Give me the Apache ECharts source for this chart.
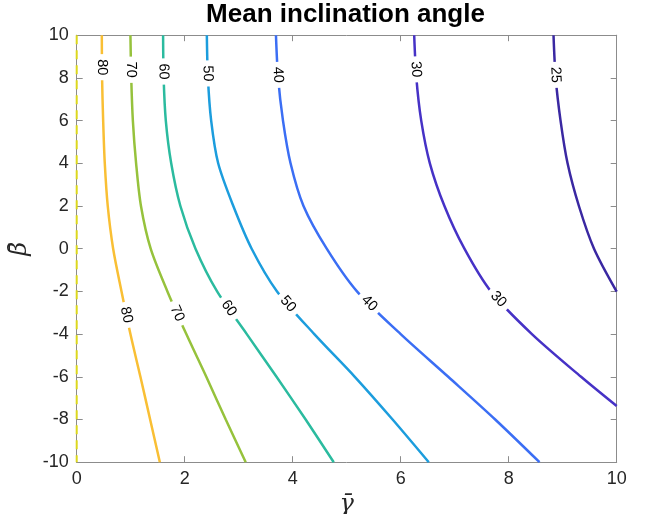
<!DOCTYPE html>
<html>
<head>
<meta charset="utf-8">
<script src="https://cdn.jsdelivr.net/npm/echarts@6/dist/echarts.min.js"></script>
<style>
  html, body { margin: 0; padding: 0; background: #fff; }
  #chart { width: 656px; height: 514px; }
</style>
</head>
<body>
<div id="chart"></div>
<script>
// Contour lines of the mean inclination angle over (gamma, beta), ordered from beta = 10 downwards.
const contour90 = [[0, 10], [0, -10]];
const contour80 = [[0.465, 10], [0.47, 8], [0.49, 6], [0.52, 4], [0.575, 2], [0.675, 0], [0.83, -2], [0.995, -4], [1.18, -6], [1.36, -8], [1.54, -10]];
const contour70 = [[0.995, 10], [1.01, 8], [1.04, 6], [1.10, 4], [1.19, 2], [1.37, 0], [1.68, -2], [2.03, -4], [2.40, -6], [2.76, -8], [3.13, -10]];
const contour60 = [[1.60, 10], [1.61, 8], [1.65, 6], [1.75, 4], [1.92, 2], [2.20, 0], [2.60, -2], [3.15, -4], [3.70, -6], [4.24, -8], [4.76, -10]];
const contour50 = [[2.41, 10], [2.43, 8], [2.49, 6], [2.62, 4], [2.90, 2], [3.24, 0], [3.71, -2], [4.40, -4], [5.15, -6], [5.85, -8], [6.52, -10]];
const contour40 = [[3.69, 10], [3.73, 8], [3.82, 6], [3.96, 4], [4.20, 2], [4.63, 0], [5.19, -2], [6.00, -4], [6.88, -6], [7.75, -8], [8.57, -10]];
const contour30 = [[6.25, 10], [6.29, 8], [6.38, 6], [6.54, 4], [6.81, 2], [7.18, 0], [7.67, -2], [8.43, -4], [9.34, -6], [10, -7.37]];
const contour25 = [[8.83, 10], [8.87, 8], [8.96, 6], [9.09, 4], [9.30, 2], [9.58, 0], [10, -2.01]];

const levels = [90, 80, 70, 60, 50, 40, 30, 25];
const contours = [contour90, contour80, contour70, contour60, contour50, contour40, contour30, contour25];

// Inline contour labels: which level, and the beta where the label sits on that line.
const labelLevel = [80, 80, 70, 70, 60, 60, 50, 50, 40, 40, 30, 30, 25];
const labelBeta = [8.5, -3.1, 8.38, -3.03, 8.3, -2.79, 8.21, -2.59, 8.14, -2.56, 8.4, -2.37, 8.14];

// Parula-like colours per level
const levelColors = {
  90: '#dcd81c', 80: '#f9bf34', 70: '#96c23c', 60: '#2bbb9f',
  50: '#1c9ddd', 40: '#3b6ef4', 30: '#4632c6', 25: '#3a28a2'
};

function segmentAt(line, beta) {
  for (let i = 0; i < line.length - 1; i++) {
    const a = line[i], b = line[i + 1];
    if (beta <= a[1] && beta >= b[1]) return [a, b];
  }
  return [line[line.length - 2], line[line.length - 1]];
}

const labelData = labelLevel.map(function (lv, i) {
  const seg = segmentAt(contours[levels.indexOf(lv)], labelBeta[i]);
  const t = (seg[0][1] - labelBeta[i]) / (seg[0][1] - seg[1][1]);
  const g = seg[0][0] + t * (seg[1][0] - seg[0][0]);
  return [g, labelBeta[i], lv];
});

const axisColor = '#8c8c8c';
const textColor = '#262626';
const font = '"Liberation Sans", Arial, Helvetica, sans-serif';
const mathFont = '"DejaVu Serif", "Liberation Serif", serif';

function frameAxis(pos, showLabels, extra) {
  return Object.assign({
    type: 'value',
    position: pos,
    axisLine: { show: true, onZero: false, lineStyle: { color: axisColor, width: 1 } },
    axisTick: { show: true, inside: true, length: 6, lineStyle: { color: axisColor, width: 1 } },
    axisLabel: { show: showLabels, color: textColor, fontSize: 18, fontFamily: font, margin: 8 },
    splitLine: { show: false }
  }, extra);
}

const series = contours.map(function (line, i) {
  const lv = levels[i];
  const s = {
    type: 'line',
    name: String(lv),
    data: line,
    showSymbol: false,
    smooth: 0.3,
    lineStyle: { color: levelColors[lv], width: 2.5 },
    z: 3
  };
  if (lv === 90) {
    s.smooth = false;
    s.clip = false;
    s.z = 10;
    s.lineStyle = { color: levelColors[lv], width: 2, type: [9, 6] };
  }
  return s;
});

series.push({
  type: 'custom',
  data: labelData,
  z: 5,
  clip: false,
  renderItem: function (params, api) {
    const g = api.value(0), b = api.value(1), lv = api.value(2);
    const seg = segmentAt(contours[levels.indexOf(lv)], b);
    const p1 = api.coord(seg[0]), p2 = api.coord(seg[1]);
    const ang = Math.atan2(p2[1] - p1[1], p2[0] - p1[0]);
    const c = api.coord([g, b]);
    return {
      type: 'text',
      x: c[0],
      y: c[1],
      rotation: -ang,
      style: {
        text: String(lv),
        fontSize: 14.5,
        fontFamily: font,
        fill: '#000',
        align: 'center',
        verticalAlign: 'middle',
        backgroundColor: '#fff',
        padding: [0, 5]
      }
    };
  }
});

const chart = echarts.init(document.getElementById('chart'));
chart.setOption({
  animation: false,
  backgroundColor: '#fff',
  title: {
    text: 'Mean inclination angle',
    left: 340.5,
    textAlign: 'center',
    top: -3,
    textStyle: { fontSize: 26, fontWeight: 'bold', color: '#000', fontFamily: font }
  },
  grid: { left: 76.7, right: 39.3, top: 35.2, bottom: 51.8, outerBoundsMode: 'none', containLabel: false },
  xAxis: [
    frameAxis('bottom', true, {
      min: 0, max: 10, interval: 2,
      name: 'γ\u0304', nameLocation: 'middle', nameGap: 18,
      nameTextStyle: { fontSize: 24, fontStyle: 'italic', fontFamily: mathFont, color: textColor }
    }),
    frameAxis('top', false, { min: 0, max: 10, interval: 2 })
  ],
  yAxis: [
    frameAxis('left', true, {
      min: -10, max: 10, interval: 2,
      name: 'β\u0304', nameLocation: 'middle', nameGap: 30, nameRotate: 90,
      nameTextStyle: { fontSize: 24, fontStyle: 'italic', fontFamily: mathFont, color: textColor }
    }),
    frameAxis('right', false, { min: -10, max: 10, interval: 2 })
  ],
  series: series
});
</script>
</body>
</html>
